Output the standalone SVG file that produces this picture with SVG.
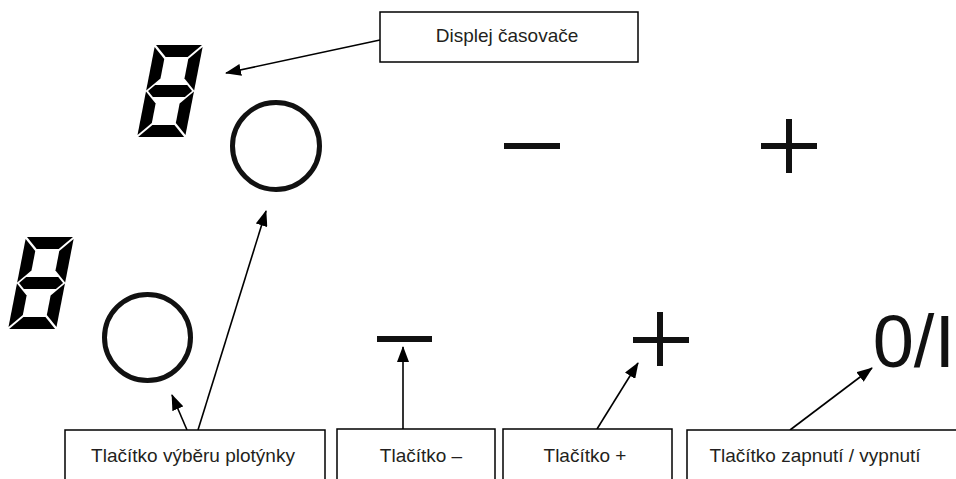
<svg xmlns="http://www.w3.org/2000/svg" width="956" height="479" viewBox="0 0 956 479">
<style>
.box{fill:#fff;stroke:#000;stroke-width:1.5}
.lbl{font-family:"Liberation Sans",Arial,sans-serif;font-size:19px;fill:#231f20;text-anchor:middle}
.ring{fill:none;stroke:#111;stroke-width:5}
.seg{fill:#000}
.con{stroke:#000;stroke-width:1.6;fill:none}
</style>
<defs>
<marker id="ah" viewBox="0 0 16 12" refX="15" refY="6" markerWidth="16" markerHeight="12" orient="auto" markerUnits="userSpaceOnUse">
<path d="M0,0 L16,6 L0,12 Z" fill="#000"/>
</marker>
<g id="digit8">
<polygon class="seg" points="1,0 47,0 35,12 13,12"/>
<polygon class="seg" points="0,2 12,14 12,33.5 0,45.5"/>
<polygon class="seg" points="48,2 36,14 36,33.5 48,45.5"/>
<polygon class="seg" points="2,46 8,40 40,40 46,46 40,52 8,52"/>
<polygon class="seg" points="0,46.5 12,58.5 12,78 0,90"/>
<polygon class="seg" points="48,46.5 36,58.5 36,78 48,90"/>
<polygon class="seg" points="1,92 47,92 35,80 13,80"/>
</g>
</defs>
<rect width="956" height="479" fill="#fff"/>

<g id="display-top">
<use href="#digit8" transform="translate(155,45) skewX(-11)"/>
</g>
<g id="display-bottom">
<use href="#digit8" transform="translate(26,237) skewX(-11)"/>
</g>
<g id="select-top"><circle class="ring" cx="276" cy="146" r="43.5"/></g>
<g id="select-bottom"><circle class="ring" cx="147.5" cy="337.5" r="43"/></g>
<g id="minus-top"><rect x="504" y="143" width="56" height="6" fill="#111"/></g>
<g id="plus-top"><rect x="761" y="143" width="56" height="6" fill="#111"/><rect x="786" y="119" width="6" height="54" fill="#111"/></g>
<g id="minus-bottom"><rect x="377" y="336" width="55" height="6" fill="#111"/></g>
<g id="plus-bottom"><rect x="633" y="337" width="56" height="6" fill="#111"/><rect x="657" y="312" width="6" height="54" fill="#111"/></g>
<g id="onoff"><text x="955" y="367" text-anchor="end" font-family="Liberation Sans, Arial, sans-serif" font-size="74" fill="#111">0/I</text></g>

<g id="connectors">
<line class="con" x1="380" y1="40" x2="226" y2="73" marker-end="url(#ah)"/>
<line class="con" x1="187" y1="430" x2="172" y2="395" marker-end="url(#ah)"/>
<line class="con" x1="198" y1="430" x2="266" y2="211" marker-end="url(#ah)"/>
<line class="con" x1="403" y1="429" x2="403" y2="347" marker-end="url(#ah)"/>
<line class="con" x1="597" y1="429" x2="638" y2="363" marker-end="url(#ah)"/>
<line class="con" x1="790" y1="430" x2="872" y2="368" marker-end="url(#ah)"/>
</g>

<g id="label-display"><rect class="box" x="380" y="12" width="258" height="50"/><text class="lbl" x="507" y="42">Displej časovače</text></g>
<g id="label-select"><rect class="box" x="65" y="430" width="260" height="60"/><text class="lbl" x="193" y="462">Tlačítko výběru plotýnky</text></g>
<g id="label-minus"><rect class="box" x="337" y="429" width="158" height="60"/><text class="lbl" x="421" y="462">Tlačítko –</text></g>
<g id="label-plus"><rect class="box" x="503" y="429" width="169" height="60"/><text class="lbl" x="585" y="462">Tlačítko +</text></g>
<g id="label-onoff"><rect class="box" x="687" y="430" width="280" height="60"/><text class="lbl" x="815" y="462">Tlačítko zapnutí / vypnutí</text></g>
</svg>
